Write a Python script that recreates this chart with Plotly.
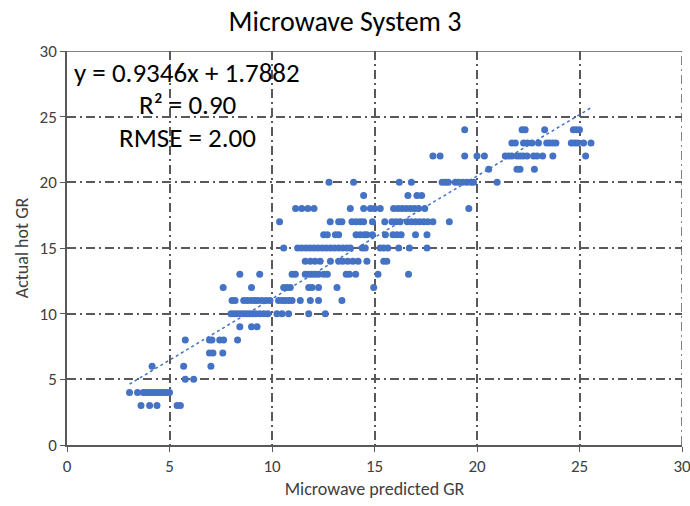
import plotly.graph_objects as go

# Microwave-predicted GR grouped by the measured (actual hot) GR value
hot_3 = [3.61, 4.03, 4.39, 5.37, 5.53]
hot_4 = [3.05, 3.44, 3.72, 3.85, 3.98, 4.1, 4.22, 4.35, 4.48, 4.6, 4.72, 4.85, 5.0]
hot_5 = [5.77, 6.18]
hot_6 = [4.15, 5.69, 7.02]
hot_7 = [6.95, 7.12, 7.6]
hot_8 = [5.77, 6.95, 7.07, 7.45, 7.64, 8.32]
hot_9 = [8.43, 9.0, 9.27]
hot_10 = [8.0, 8.15, 8.3, 8.45, 8.6, 8.75, 8.9, 9.05, 9.2, 9.4, 9.6, 9.8,
          10.24, 10.49, 10.81, 11.79, 12.6]
hot_11 = [8.05, 8.2, 8.62, 8.8, 8.98, 9.15, 9.3, 9.5, 9.7, 9.9,
          10.32, 10.5, 10.65, 10.82, 10.98, 11.38, 11.87, 12.27, 13.41]
hot_12 = [7.62, 9.0, 10.57, 10.73, 10.89, 11.79, 11.95, 12.27, 13.17, 14.96]
hot_13 = [8.43, 9.4, 10.98, 11.14, 11.62, 11.8, 11.95, 12.11, 12.27, 12.52, 12.7,
          13.62, 13.78, 14.08, 15.17, 16.66]
hot_14 = [11.62, 11.87, 12.1, 12.35, 12.85, 13.25, 13.45, 13.7, 13.95, 14.2,
          14.63, 15.45, 15.6]
hot_15 = [10.57, 11.25, 11.45, 11.65, 11.85, 12.05, 12.25, 12.45, 12.65, 12.85,
          13.05, 13.25, 13.45, 13.65, 13.82, 14.4, 14.55, 15.28, 15.45, 15.65,
          16.18, 16.7, 17.56]
hot_16 = [12.52, 12.7, 13.09, 13.25, 14.1, 14.3, 14.5, 14.63, 14.9, 15.53,
          15.9, 16.1, 16.3, 17.0, 17.56]
hot_17 = [10.37, 12.84, 13.25, 13.41, 13.9, 14.1, 14.3, 14.47, 14.9, 15.5,
          15.85, 16.05, 16.25, 16.6, 16.8, 17.0, 17.2, 17.4, 17.6, 17.85, 18.65]
hot_18 = [11.15, 11.45, 11.75, 12.05, 13.82, 14.47, 14.8, 15.0, 15.28, 15.93,
          16.15, 16.35, 16.55, 16.75, 16.95, 17.15, 17.45, 19.6]
hot_19 = [14.47, 16.63, 17.07, 17.3]
hot_20 = [12.78, 13.98, 16.21, 16.8, 18.3, 18.45, 18.6, 18.94, 19.1, 19.3,
          19.5, 19.7, 19.83, 20.98]
hot_21 = [20.57, 21.95, 22.1, 22.8]
hot_22 = [17.85, 18.2, 19.4, 20.0, 20.36, 21.38, 21.55, 21.7, 21.95, 22.1,
          22.25, 22.44, 22.76, 22.93, 23.2, 23.7, 25.3]
hot_23 = [21.7, 21.87, 22.27, 22.45, 22.68, 23.0, 23.4, 23.55, 23.7, 23.85,
          24.6, 24.75, 24.9, 25.2, 25.56]
hot_24 = [19.4, 22.2, 22.35, 23.3, 24.7, 24.85, 25.0]

groups = [
    (3, hot_3), (4, hot_4), (5, hot_5), (6, hot_6), (7, hot_7), (8, hot_8),
    (9, hot_9), (10, hot_10), (11, hot_11), (12, hot_12), (13, hot_13),
    (14, hot_14), (15, hot_15), (16, hot_16), (17, hot_17), (18, hot_18),
    (19, hot_19), (20, hot_20), (21, hot_21), (22, hot_22), (23, hot_23),
    (24, hot_24),
]

# Linear fit reported on the chart
SLOPE = 0.9346
INTERCEPT = 1.7882
R_SQUARED = "0.90"
RMSE = "2.00"

axis_ticks = [0, 5, 10, 15, 20, 25, 30]
AXIS_MAX = 30

predicted = [x for _, xs in groups for x in xs]
actual = [y for y, xs in groups for _ in xs]

x_lo, x_hi = min(predicted), max(predicted)
fit_x = [x_lo, x_hi]
fit_y = [SLOPE * v + INTERCEPT for v in fit_x]

BLUE = "#4472C4"
GRID = "#595959"
TEXT = "#404040"
FONT = "Calibri, Carlito, Lato, sans-serif"
GRID_DASH = "9px,4px,2px,4px"

fig = go.Figure()
fig.add_trace(go.Scatter(
    x=predicted, y=actual, mode="markers",
    marker=dict(color=BLUE, size=7, line=dict(width=0)),
    showlegend=False,
))
fig.add_trace(go.Scatter(
    x=fit_x, y=fit_y, mode="lines",
    line=dict(color=BLUE, width=1.5, dash="dot"),
    showlegend=False,
))

axis_common = dict(
    range=[0, AXIS_MAX], tickvals=axis_ticks, automargin=False,
    ticktext=[str(t) for t in axis_ticks], ticklabeloverflow="allow",
    showgrid=True, gridcolor=GRID, gridwidth=1.5, griddash=GRID_DASH,
    zeroline=False, showline=True, linecolor=GRID, linewidth=1.5,
    ticks="outside", ticklen=5, tickcolor=GRID, tickwidth=1.3,
    tickfont=dict(family=FONT, size=17, color=TEXT),
    fixedrange=True,
)

fig.update_layout(
    width=690, height=506,
    margin=dict(l=67, r=8, t=51, b=61, autoexpand=False),
    paper_bgcolor="white", plot_bgcolor="white",
    title=dict(text="Microwave System 3", x=0.5, xanchor="center",
               y=1 - 21 / 506, yanchor="middle", yref="container",
               automargin=False,
               font=dict(family=FONT, size=28, color="#000000")),
    xaxis=dict(**axis_common,
               title=dict(text="Microwave predicted GR", standoff=6,
                          font=dict(family=FONT, size=18, color=TEXT))),
    yaxis=dict(**axis_common,
               title=dict(text="Actual hot GR", standoff=6,
                          font=dict(family=FONT, size=18, color=TEXT))),
)

# Frame at the top of the plot area and the last vertical grid line
fig.add_shape(type="line", xref="x", yref="y", x0=0, x1=AXIS_MAX,
              y0=AXIS_MAX, y1=AXIS_MAX, line=dict(color=GRID, width=1.5),
              layer="below")
fig.add_shape(type="line", xref="x", yref="y", x0=AXIS_MAX, x1=AXIS_MAX,
              y0=0, y1=AXIS_MAX,
              line=dict(color=GRID, width=1.5, dash=GRID_DASH),
              layer="below")

fit_lines = [
    (f"y = {SLOPE}x + {INTERCEPT}", 28.4),
    (f"R² = {R_SQUARED}", 25.9),
    (f"RMSE = {RMSE}", 23.45),
]
for text, ypos in fit_lines:
    fig.add_annotation(x=5.87, y=ypos, xref="x", yref="y", text=text,
                       showarrow=False, xanchor="center", yanchor="middle",
                       font=dict(family=FONT, size=27, color="#000000"))

fig.write_html("out.html")
